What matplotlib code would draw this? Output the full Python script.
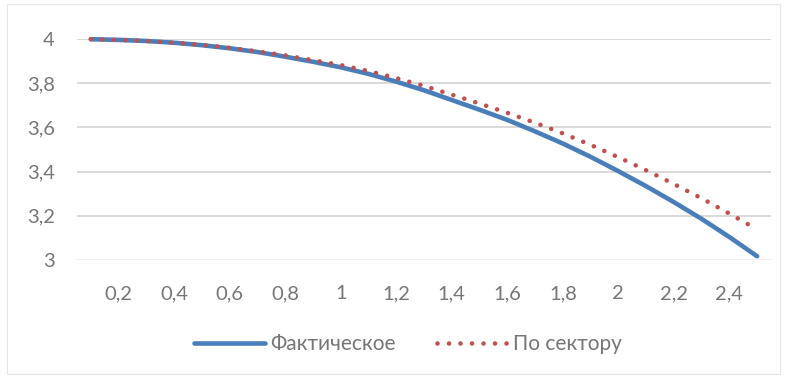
import matplotlib
matplotlib.use("Agg")
import matplotlib.pyplot as plt
from matplotlib.patches import Rectangle

plt.rcParams['font.family'] = ['Lato', 'DejaVu Sans']

x_vals = [0.1, 0.2, 0.3, 0.4, 0.5, 0.6, 0.7, 0.8, 0.9, 1.0, 1.1, 1.2, 1.3,
          1.4, 1.5, 1.6, 1.7, 1.8, 1.9, 2.0, 2.1, 2.2, 2.3, 2.4, 2.5]
actual = [3.999, 3.996, 3.991, 3.983, 3.972, 3.958, 3.941, 3.920, 3.897, 3.872,
          3.842, 3.807, 3.768, 3.724, 3.680, 3.634, 3.582, 3.527, 3.467, 3.402,
          3.334, 3.262, 3.186, 3.104, 3.017]
sector = [3.999, 3.996, 3.991, 3.983, 3.973, 3.960, 3.944, 3.926, 3.904, 3.882,
          3.855, 3.823, 3.788, 3.748, 3.708, 3.666, 3.621, 3.573, 3.521, 3.465,
          3.406, 3.344, 3.279, 3.210, 3.138]
x_ticks = [0.2, 0.4, 0.6, 0.8, 1.0, 1.2, 1.4, 1.6, 1.8, 2.0, 2.2, 2.4]
x_labels = ["0,2", "0,4", "0,6", "0,8", "1", "1,2", "1,4", "1,6", "1,8", "2", "2,2", "2,4"]
y_ticks = [3.0, 3.2, 3.4, 3.6, 3.8, 4.0]
y_labels = ["3", "3,2", "3,4", "3,6", "3,8", "4"]
series_names = ["Фактическое", "По сектору"]

W, H = 787, 376
fig = plt.figure(figsize=(W / 100, H / 100), dpi=100)
ax = fig.add_axes([77 / W, 1 - 260 / H, (771 - 77) / W, (260 - 39) / H])

txt = '#767676'
ax.plot(x_vals, actual, color='#4a7ebb', lw=3.3, solid_capstyle='round',
        clip_on=False, zorder=3, label=series_names[0])
ax.plot(x_vals, sector, color='#c0504d', lw=3.3, linestyle=(0, (0.01, 2.5)),
        dash_capstyle='round', clip_on=False, zorder=4, label=series_names[1])

ax.set_xlim(0.05, 2.55)
ax.set_ylim(3.0, 4.0)
ax.set_xticks(x_ticks)
ax.set_xticklabels(x_labels)
ax.set_yticks(y_ticks)
ax.set_yticklabels(y_labels)
for yv in y_ticks:
    ax.axhline(yv, color='#d9d9d9' if yv > 3.0 else '#f0f0f0', lw=1.4, zorder=1)
for s in ax.spines.values():
    s.set_visible(False)
ax.tick_params(axis='both', length=0, labelsize=14.5, colors=txt)
ax.tick_params(axis='y', pad=16)
ax.tick_params(axis='x', pad=18)

leg = fig.legend(loc='center', bbox_to_anchor=(408 / W, 1 - 344 / H), ncol=2,
                 frameon=False, fontsize=15, handlelength=3.4,
                 handletextpad=0.25, columnspacing=2.0)
for t in leg.get_texts():
    t.set_color(txt)

fig.patches.append(Rectangle((7 / W, 2 / H), (W - 14) / W, (H - 6) / H,
                             transform=fig.transFigure, fill=False,
                             edgecolor='#e6e6e6', lw=0.8))

fig.savefig('out.png', dpi=100)
